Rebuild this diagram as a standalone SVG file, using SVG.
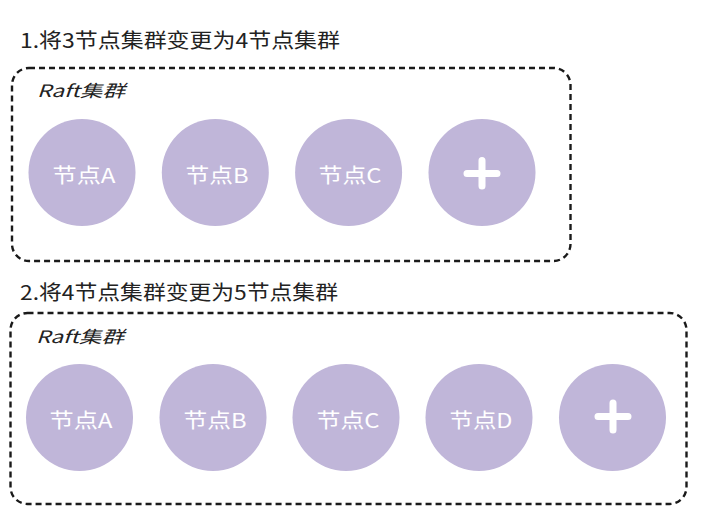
<svg xmlns="http://www.w3.org/2000/svg" width="721" height="525" viewBox="0 0 721 525">
<style>
.title{font-family:"Noto Sans CJK SC","Noto Sans",sans-serif;font-size:20px;fill:#222}
.grp{font-family:"Noto Sans CJK SC","Noto Sans",sans-serif;font-size:17px;fill:#222;font-style:italic}
.box{fill:none;stroke:#1a1a1a;stroke-width:2.4;stroke-dasharray:6 4}
.node{fill:#C0B6D9}
.lbl{font-family:"Noto Sans CJK SC","Noto Sans",sans-serif;font-size:20px;fill:#fff;text-anchor:middle}
.plus{stroke:#fff;stroke-width:7;stroke-linecap:round;fill:none}
</style>
<rect width="721" height="525" fill="#fff"/>
<text class="title" x="20" y="48" textLength="320" lengthAdjust="spacingAndGlyphs">1.将3节点集群变更为4节点集群</text>
<text class="title" x="20" y="300" textLength="318" lengthAdjust="spacingAndGlyphs">2.将4节点集群变更为5节点集群</text>
<g id="cluster1">
<rect class="box" x="12" y="68" width="558.5" height="193" rx="17"/>
<text class="grp" x="37" y="97" textLength="88" lengthAdjust="spacingAndGlyphs">Raft集群</text>
</g>
<g id="cluster2">
<rect class="box" x="10.5" y="313" width="676" height="191" rx="17"/>
<text class="grp" x="36" y="343" textLength="88" lengthAdjust="spacingAndGlyphs">Raft集群</text>
</g>
<g id="c1-nodeA"><circle class="node" cx="82" cy="172.5" r="53.5"/><text class="lbl" x="84" y="183" textLength="63" lengthAdjust="spacingAndGlyphs">节点A</text></g>
<g id="c1-nodeB"><circle class="node" cx="215.3" cy="172.5" r="53.5"/><text class="lbl" x="217" y="183" textLength="63" lengthAdjust="spacingAndGlyphs">节点B</text></g>
<g id="c1-nodeC"><circle class="node" cx="348.6" cy="172.5" r="53.5"/><text class="lbl" x="350" y="183" textLength="63" lengthAdjust="spacingAndGlyphs">节点C</text></g>
<g id="c1-add"><circle class="node" cx="482" cy="172.5" r="53.5"/><path class="plus" d="M467 173.5H497M482 160.5V186"/></g>
<g id="c2-nodeA"><circle class="node" cx="79.5" cy="417.5" r="53.5"/><text class="lbl" x="81" y="428" textLength="63" lengthAdjust="spacingAndGlyphs">节点A</text></g>
<g id="c2-nodeB"><circle class="node" cx="213" cy="417.5" r="53.5"/><text class="lbl" x="215" y="428" textLength="63" lengthAdjust="spacingAndGlyphs">节点B</text></g>
<g id="c2-nodeC"><circle class="node" cx="346" cy="417.5" r="53.5"/><text class="lbl" x="348" y="428" textLength="63" lengthAdjust="spacingAndGlyphs">节点C</text></g>
<g id="c2-nodeD"><circle class="node" cx="479" cy="417.5" r="53.5"/><text class="lbl" x="481" y="428" textLength="63" lengthAdjust="spacingAndGlyphs">节点D</text></g>
<g id="c2-add"><circle class="node" cx="612.5" cy="417.5" r="53.5"/><path class="plus" d="M598 416.5H628M613 403V430"/></g>
<g id="connectors"></g>
</svg>
